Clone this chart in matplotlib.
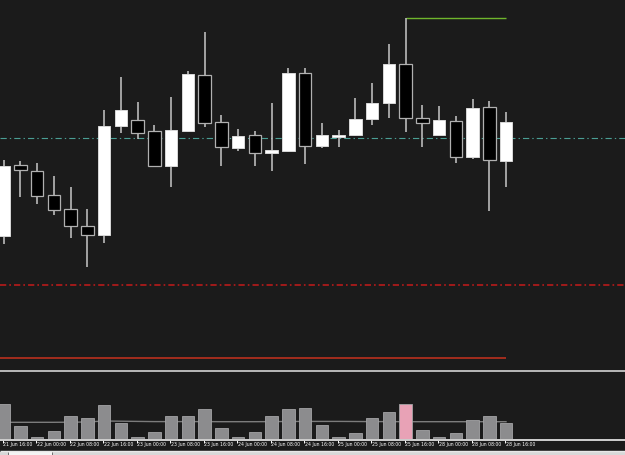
import numpy as np
import matplotlib
matplotlib.use("Agg")
import matplotlib.pyplot as plt

plt.rcParams['lines.scale_dashes'] = False

# 4-hour candles, 21 Jun 16:00 .. 28 Jun 16:00
opens = [1.1964, 1.2035, 1.2029, 1.2005, 1.1991, 1.1974, 1.1965, 1.2074, 1.2080, 1.2069,
         1.2034, 1.2069, 1.2125, 1.2078, 1.2052, 1.2065, 1.2047, 1.2049, 1.2127, 1.2054,
         1.2063, 1.2065, 1.2081, 1.2097, 1.2136, 1.2082, 1.2065, 1.2079, 1.2043, 1.2093, 1.2039]
highs = [1.2040, 1.2039, 1.2037, 1.2024, 1.2013, 1.1991, 1.2090, 1.2123, 1.2098, 1.2075,
         1.2103, 1.2129, 1.2168, 1.2085, 1.2071, 1.2069, 1.2097, 1.2132, 1.2132, 1.2077,
         1.2070, 1.2102, 1.2117, 1.2156, 1.2182, 1.2095, 1.2094, 1.2084, 1.2101, 1.2099, 1.2088]
lows = [1.1956, 1.2003, 1.1996, 1.1985, 1.1962, 1.1933, 1.1957, 1.2067, 1.2061, 1.2033,
        1.2013, 1.2068, 1.2073, 1.2034, 1.2049, 1.2034, 1.2029, 1.2048, 1.2036, 1.2052,
        1.2053, 1.2064, 1.2075, 1.2082, 1.2068, 1.2053, 1.2065, 1.2037, 1.2041, 1.1989, 1.2013]
closes = [1.2034, 1.2030, 1.2004, 1.1990, 1.1974, 1.1965, 1.2074, 1.2090, 1.2067, 1.2034,
          1.2070, 1.2126, 1.2077, 1.2053, 1.2064, 1.2047, 1.2050, 1.2127, 1.2054, 1.2065,
          1.2065, 1.2081, 1.2097, 1.2136, 1.2082, 1.2077, 1.2080, 1.2043, 1.2092, 1.2040, 1.2078]
volumes = [3500, 1300, 200, 800, 2300, 2100, 3400, 1600, 200, 700,
           2300, 2300, 3000, 1100, 200, 700, 2300, 3000, 3100, 1400,
           200, 600, 2100, 2700, 3500, 900, 200, 600, 1900, 2300, 1600]
volume_ma = [1670, 1670, 1670, 1670, 1680, 1700, 1800, 1780, 1760, 1740,
             1740, 1740, 1740, 1730, 1730, 1730, 1740, 1750, 1760, 1760,
             1760, 1750, 1740, 1740, 1730, 1730, 1730, 1730, 1730, 1730, 1730]
highlight = 24  # pink volume bar

tick_labels = ['21 Jun 16:00', '22 Jun 00:00', '22 Jun 08:00', '22 Jun 16:00',
               '23 Jun 00:00', '23 Jun 08:00', '23 Jun 16:00', '24 Jun 00:00',
               '24 Jun 08:00', '24 Jun 16:00', '25 Jun 00:00', '25 Jun 08:00',
               '25 Jun 16:00', '28 Jun 00:00', '28 Jun 08:00', '28 Jun 16:00']

level_mid = 1.2062     # dash-dot teal
level_low = 1.1915     # dash-dot red
level_stop = 1.1842    # solid orange
level_high = 1.2182    # green, from the high candle

bg = '#1b1b1b'
W, H = 625, 455
step = 16.75
x0 = 3.5
xlim = (-x0 / step, (W - x0) / step)

fig = plt.figure(figsize=(W / 100, H / 100), dpi=100, facecolor=bg)

def px_axes(top, bottom):
    return fig.add_axes([0, (H - bottom) / H, 1, (bottom - top) / H])

ax = px_axes(0, 369)
ax.set_facecolor(bg)
ax.set_xlim(*xlim)
ax.set_ylim(1.1831, 1.2200)
ax.axis('off')

idx = np.arange(len(opens))
o = np.array(opens); c = np.array(closes)
up = c >= o
bw = 12.5 / step

ax.vlines(idx, lows, highs, color='#c8c8c8', lw=1.1, zorder=2)
bottoms = np.minimum(o, c)
heights = np.maximum(np.abs(c - o), 0.00008)
ax.bar(idx[up], heights[up], bottom=bottoms[up], width=bw, color='white',
       edgecolor='#d8d8d8', lw=0.7, zorder=3)
ax.bar(idx[~up], heights[~up], bottom=bottoms[~up], width=bw, color='black',
       edgecolor='#b0b0b0', lw=0.9, zorder=3)

ax.axhline(level_mid, color='#4a9e94', lw=0.8, dashes=(4.5, 2.2, 1.0, 2.2), zorder=1)
ax.axhline(level_low, color='#b81a1a', lw=1.2, dashes=(4.5, 2.2, 1.2, 2.2), zorder=1)
ax.hlines(level_stop, xlim[0], len(opens) - 1, color='#c8321e', lw=1.1, zorder=1)
ax.hlines(level_high, highlight, len(opens) - 1, color='#6fb52c', lw=1.0, zorder=1)

# volume pane
av = px_axes(372, 439)
av.set_facecolor(bg)
av.set_xlim(*xlim)
av.set_ylim(0, 6700)
av.axis('off')
colors = ['#e8a2b6' if i == highlight else '#8c8c8e' for i in idx]
av.bar(idx, volumes, width=bw, color=colors, edgecolor='#a4a4a6', lw=0.6, zorder=3)
av.plot(idx, volume_ma, color='#7c7c7c', lw=1.0, zorder=2)

# time axis strip
at = px_axes(439, 451)
at.set_facecolor(bg)
at.set_xlim(*xlim)
at.set_ylim(451, 439)
at.axis('off')
for k, lab in enumerate(tick_labels):
    xi = 2 * k - 0.05
    at.vlines(xi, 439.5, 443, color='white', lw=0.7)
    at.text(xi + 0.03, 444.8, lab, color='white', fontsize=3.3,
            ha='left', va='center')

# frame elements in pixel coordinates
fr = fig.add_axes([0, 0, 1, 1], facecolor='none')
fr.set_xlim(0, W)
fr.set_ylim(H, 0)
fr.axis('off')
fr.fill_between([0, W], 369.6, 372, color='#b4b4b4', lw=0)
fr.hlines(439.5, 0, W, color='#d0d0d0', lw=1.4)
fr.hlines(450.8, 0, W, color='#e8e8e8', lw=1.0)
fr.fill_between([0, W], 452, H, color='#d8d8d8', lw=0)
fr.fill_between([8, 52], 452, H, color='#f4f4f4', lw=0)
fr.vlines([8, 52], 452, H, color='#707070', lw=0.7)

fig.savefig('out.png', dpi=100, facecolor=bg)
